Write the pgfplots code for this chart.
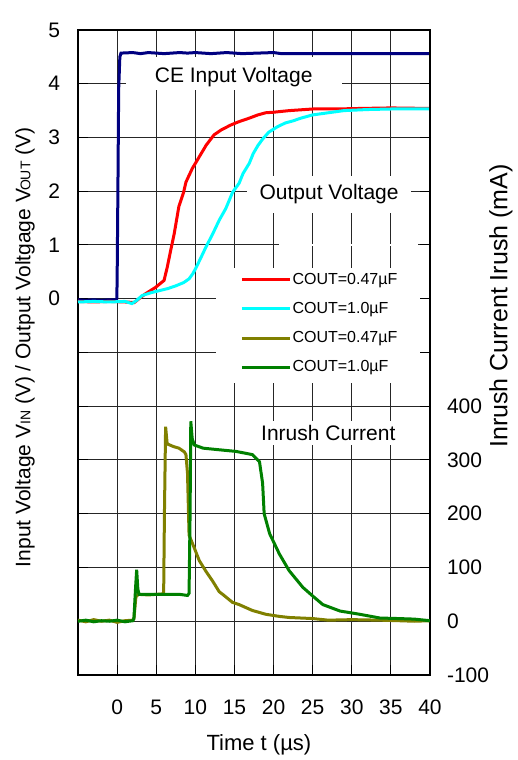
\documentclass[border=0pt]{standalone}
\usepackage{fontspec}
\setmainfont{Liberation Sans}
\usepackage{pgfplots}
\pgfplotsset{compat=1.18}

\definecolor{cenavy}{RGB}{0,0,128}
\definecolor{vred}{RGB}{255,0,0}
\definecolor{vcyan}{RGB}{0,255,255}
\definecolor{iolive}{RGB}{128,128,0}
\definecolor{igreen}{RGB}{0,128,0}

\newcommand{\sub}[1]{{\fontsize{7}{7}\selectfont #1}}
\newcommand{\lbl}{\fontsize{10.5}{12}\selectfont}

\begin{document}
\begin{tikzpicture}
\pgfplotsset{
  base/.style={
    scale only axis, width=176pt, height=322.5pt,
    xmin=-5, xmax=40,
    axis line style={line width=1pt, black},
    tick style={black, line width=0.5pt},
    major tick length=5pt, tick align=inside,
    tick label style={font=\lbl},
  },
}
% voltages (left axis)
\begin{axis}[base, name=ax,
  ymin=-7, ymax=5,
  ytick={-6,...,5}, yticklabels={,,,,,,0,1,2,3,4,5},
  xtick={0,5,...,40}, xticklabels={0,5,10,15,20,25,30,35,40},
  xtick pos=bottom, ytick pos=left,
  xticklabel style={anchor=center, yshift=-16pt},
  yticklabel style={xshift=-5.5pt},
  grid=major, major grid style={line width=0.5pt, black!85},
  xlabel={Time t (µs)},
  xlabel style={at={(axis description cs:0.514,-0.1085)}, anchor=center, font=\fontsize{11}{12}\selectfont},
  ylabel={Input Voltage V\sub{IN} (V) / Output Voltgage V\kern-1pt\sub{OUT} (V)},
  ylabel style={at={(axis description cs:-0.1506,0.508)}, anchor=center, font=\lbl},
  legend cell align=left,
  legend image code/.code={\draw[#1] (0pt,0pt) -- (24pt,0pt);},
  legend style={at={(axis description cs:0.46,0.627)}, anchor=north west,
    draw=none, fill=none, inner sep=0pt, row sep=5.9pt,
    font=\fontsize{8}{9}\selectfont,
    nodes={inner sep=0.6pt, text height=6pt, text depth=1.5pt}},
]
% white boxes behind the texts and the legend
\fill[white] (1.12,3.88) rectangle (28.72,4.50);
\fill[white] (16.65,1.59) rectangle (37.57,2.29);
\fill[white] (20.76,0.985) rectangle (38.47,1.015);
\fill[white] (12.67,-1.57) rectangle (39.9,0.58);
\node[font=\lbl] at (14.9,4.12) {CE Input Voltage};
\node[font=\lbl] at (27.1,1.94) {Output Voltage};

\addplot[cenavy, line width=1.5pt, forget plot] coordinates {
(-5,-0.02) (-4,-0.03) (-3,-0.02) (-2,-0.03) (-1,-0.02) (-0.05,-0.02)
(0,0.3) (0.1,2.0) (0.2,3.9) (0.35,4.5) (0.5,4.57) (2,4.58) (3,4.56)
(4,4.58) (6,4.56) (8,4.58) (9,4.57) (10,4.58) (12,4.56) (14,4.58)
(16,4.56) (18,4.57) (20,4.58) (21,4.56) (25,4.56) (30,4.56) (35,4.56) (40,4.56)
};
\addplot[vred, line width=1.5pt] coordinates {
(-5,-0.05) (-3,-0.06) (-1,-0.05) (1,-0.06) (2.2,-0.07) (2.8,0.0)
(3.6,0.09) (4.9,0.21) (6.0,0.34) (6.4,0.58) (6.85,0.9) (7.3,1.21)
(7.9,1.72) (8.5,1.98) (8.8,2.17) (9.6,2.42) (10.5,2.64) (11.4,2.86)
(12.4,3.05) (13.3,3.14) (14.5,3.23) (15.5,3.29) (16.9,3.36) (18,3.42)
(19,3.46) (20,3.47) (22,3.5) (23,3.51) (25,3.53) (28,3.53) (31,3.54)
(35,3.55) (40,3.54)
};
\addplot[vcyan, line width=1.5pt] coordinates {
(-5,-0.06) (-3,-0.05) (-1,-0.06) (1,-0.05) (1.9,-0.09) (2.5,-0.03)
(3.2,0.06) (4.3,0.11) (5.4,0.15) (6.5,0.19) (7.5,0.24) (8.5,0.3)
(9.2,0.37) (9.7,0.47) (10.1,0.58) (10.7,0.76) (11.35,0.96) (12.2,1.2)
(13.05,1.46) (13.9,1.68) (14.76,1.98) (15.6,2.15) (16.1,2.33) (16.9,2.52)
(17.4,2.7) (18,2.85) (18.6,2.97) (19.4,3.1) (20.5,3.2) (21.5,3.27)
(22.5,3.31) (23.5,3.36) (25,3.42) (27,3.46) (29,3.5) (32,3.52)
(35,3.53) (38,3.53) (40,3.53)
};
\addlegendentry{COUT=0.47µF}
\addlegendentry{COUT=1.0µF}
\addlegendimage{iolive, line width=1.5pt}
\addlegendentry{COUT=0.47µF}
\addlegendimage{igreen, line width=1.5pt}
\addlegendentry{COUT=1.0µF}
\node[font=\lbl, anchor=east] at (rel axis cs:0.986,1) [yshift=6.5pt] {V\sub{IN}=4.6V};
\end{axis}

% inrush current (right axis)
\begin{axis}[base,
  ymin=-100, ymax=1100,
  axis x line=none, axis y line*=right,
  ytick={-100,0,...,1000}, yticklabels={-100,0,100,200,300,400,,,,,,},
  yticklabel style={xshift=5pt},
  ylabel={Inrush Current Irush (mA)},
  ylabel style={at={(axis description cs:1.2017,0.572)}, anchor=center, font=\fontsize{12.5}{14}\selectfont},
]
\fill[white] (16.65,327) rectangle (37.4,373);
\node[font=\lbl] at (27.0,350) {Inrush Current};

\addplot[iolive, line width=1.5pt] coordinates {
(-5,2) (-4,-1) (-3,3) (-2,0) (-1,2) (0,-2) (1,1) (2,2) (2.15,5)
(2.4,45) (2.7,50) (4,49) (5,50) (5.95,51) (6.05,200) (6.2,362)
(6.4,330) (7.2,325) (7.9,322) (8.6,315) (8.8,310) (9.0,275) (9.2,160)
(9.85,137) (10.5,113) (11.35,93) (12.2,75) (13.05,55) (13.5,50)
(14.76,35) (15.6,31) (17.3,20) (17.8,18) (19,13) (20.75,9) (22,7)
(25,5) (27,2) (30,3) (33.6,2) (36,1) (38,0) (40,1)
};
\addplot[igreen, line width=1.5pt] coordinates {
(-5,0) (-4,2) (-3,-1) (-2,1) (-1,0) (0,2) (1,-1) (2,1) (2.15,5)
(2.35,60) (2.5,96) (2.65,60) (2.8,50) (4,50) (6,50) (8,50) (9.0,48)
(9.2,52) (9.33,200) (9.42,372) (9.6,340) (9.85,328) (11,322)
(13.05,319) (15.2,316) (17.3,310) (18.2,297) (18.6,257) (18.8,200)
(19.5,163) (20.75,125) (22,94) (23.75,63) (25,47) (26.3,31) (28.5,19)
(31,13) (33.6,6) (36,5) (38,4) (40,1)
};
\end{axis}
\pgfresetboundingbox
\path (ax.south west) ++(-39pt,-42.5pt) rectangle ++(259pt,380pt);
\end{tikzpicture}
\end{document}
